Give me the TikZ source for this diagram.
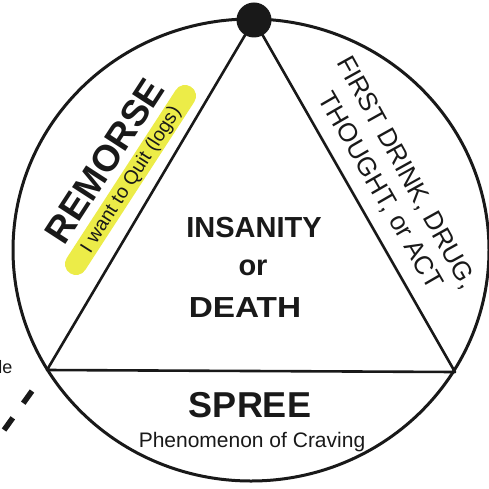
\documentclass[tikz,border=0pt]{standalone}
\usepackage{fontspec}
\setmainfont{Liberation Sans}
\definecolor{hl}{RGB}{236,236,72}
\definecolor{ink}{RGB}{25,25,25}
\newcommand{\fs}[1]{\fontsize{#1}{#1}\selectfont}
\begin{document}
\begin{tikzpicture}[x=1pt,y=-1pt,line join=round]
\tikzset{lbl/.style={text=ink,inner sep=0pt}}
\useasboundingbox (0,0) rectangle (489,489);
\clip (0,0) rectangle (489,489);
\fill[white] (0,0) rectangle (489,489);
% geometry
\coordinate (A) at (254,20);
\coordinate (L) at (47,370);
\coordinate (R) at (455,372);
\coordinate (C) at (251,250);
\draw[ink,line width=3pt] (C) ellipse [x radius=238pt, y radius=231pt];
\draw[ink,line width=2.6pt] (A) -- (L) -- (R) -- cycle;
\node[circle,fill=ink,minimum size=35pt,inner sep=0pt] (dot) at (A) {};
% dashed continuation
\coordinate (d0) at (32,391);
\coordinate (d1) at (-26,472);
\draw[ink,line width=5.5pt,dash pattern=on 15pt off 18pt] (d0) -- (d1);
% highlight
\coordinate (h0) at (76,264);
\coordinate (h1) at (185,96);
\draw[hl,line width=22pt,line cap=round] (h0) -- (h1);
% texts
\node[lbl,rotate=57,font=\bfseries\fs{37}] (rem) at (104.5,161) {REMORSE};
\node[lbl,rotate=57.5,font=\fs{19.5}] (quit) at (131.5,180) {I want to Quit (logs)};
\node[lbl,rotate=-61,font=\fs{26}] (first) at (406,173) {FIRST DRINK, DRUG,};
\node[lbl,rotate=-60,font=\fs{26}] (thought) at (380,191.5) {THOUGHT, or ACT};
\node[lbl,anchor=base,font=\bfseries\fs{29}] (ins) at (254,237) {INSANITY};
\node[lbl,anchor=base,font=\bfseries\fs{29}] (or) at (253,275) {or};
\node[lbl,anchor=base,xscale=1.15,font=\bfseries\fs{29}] (death) at (245,317) {DEATH};
\node[lbl,anchor=base,font=\bfseries\fs{36}] (spree) at (250,417) {SPREE};
\node[lbl,anchor=base,font=\fs{21}] (phen) at (252,447) {Phenomenon of Craving};
\node[lbl,anchor=base east,font=\fs{18}] (le) at (12.5,373) {le};
\end{tikzpicture}
\end{document}
